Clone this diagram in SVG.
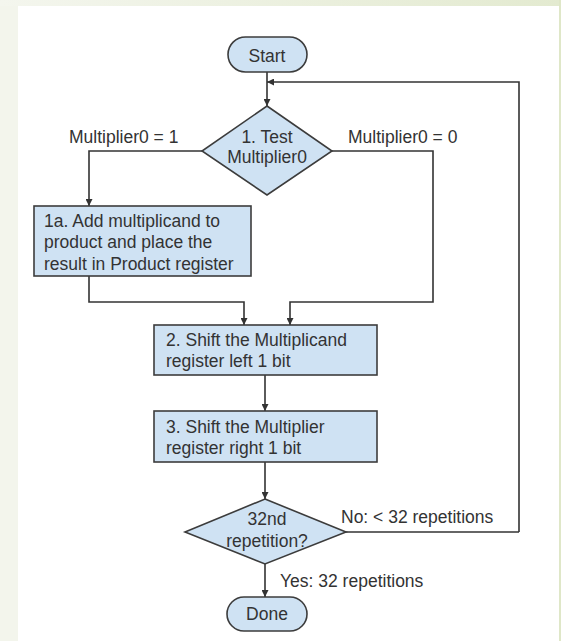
<svg xmlns="http://www.w3.org/2000/svg" width="561" height="641" viewBox="0 0 561 641">
  <defs>
    <linearGradient id="topband" x1="0" y1="0" x2="1" y2="0">
      <stop offset="0" stop-color="#f4f6ee"/>
      <stop offset="1" stop-color="#e3ead0"/>
    </linearGradient>
    <marker id="arrow" markerUnits="userSpaceOnUse" markerWidth="8" markerHeight="7" refX="7" refY="3.5" orient="auto">
      <path d="M0,0 L7,3.5 L0,7 z" fill="#333"/>
    </marker>
    <style>
      .shape { fill: #cfe2f3; stroke: #3c3c3c; stroke-width: 1.6; }
      .label { font-family: "Liberation Sans", Arial, sans-serif; font-size: 17.5px; fill: #333; }
      .mid { text-anchor: middle; }
      .wire { fill: none; stroke: #333; stroke-width: 1.6; }
    </style>
  </defs>

  <!-- page backdrop -->
  <rect x="0" y="0" width="561" height="641" fill="#f3f5ec"/>
  <rect x="0" y="0" width="561" height="6" fill="url(#topband)"/>
  <rect x="559" y="0" width="2" height="641" fill="#dfe7c8"/>
  <rect x="18" y="6" width="541" height="635" fill="#ffffff"/>

  <!-- connectors -->
  <g id="connectors">
    <path class="wire" d="M267,72 V106" marker-end="url(#arrow)"/>
    <path class="wire" d="M519,532 V82 H267" marker-end="url(#arrow)"/>
    <path class="wire" d="M202,151 H89 V206" marker-end="url(#arrow)"/>
    <path class="wire" d="M332,151 H433 V302 H290 V325" marker-end="url(#arrow)"/>
    <path class="wire" d="M89,276 V302 H244 V325" marker-end="url(#arrow)"/>
    <path class="wire" d="M265,375 V411" marker-end="url(#arrow)"/>
    <path class="wire" d="M265,462 V499" marker-end="url(#arrow)"/>
    <path class="wire" d="M346,532 H519"/>
    <path class="wire" d="M265,564 V597" marker-end="url(#arrow)"/>
  </g>

  <!-- edge labels -->
  <g id="edge-labels">
    <text class="label" x="69" y="143">Multiplier0 = 1</text>
    <text class="label" x="348" y="143">Multiplier0 = 0</text>
    <text class="label" x="341" y="523">No: &lt; 32 repetitions</text>
    <text class="label" x="280" y="587">Yes: 32 repetitions</text>
  </g>

  <g id="start">
    <rect class="shape" x="228" y="37" width="79" height="35" rx="17.5"/>
    <text class="label mid" x="267" y="62">Start</text>
  </g>

  <g id="test-multiplier">
    <polygon class="shape" points="267,106 332,151 267,195 202,151"/>
    <text class="label mid" x="267" y="143">1. Test</text>
    <text class="label mid" x="267" y="163">Multiplier0</text>
  </g>

  <g id="add-multiplicand">
    <rect class="shape" x="34" y="206" width="217" height="70"/>
    <text class="label" x="44" y="227">1a. Add multiplicand to</text>
    <text class="label" x="44" y="248">product and place the</text>
    <text class="label" x="44" y="269.5">result in Product register</text>
  </g>

  <g id="shift-multiplicand">
    <rect class="shape" x="154" y="325" width="223" height="50"/>
    <text class="label" x="166" y="346">2. Shift the Multiplicand</text>
    <text class="label" x="166" y="367">register left 1 bit</text>
  </g>

  <g id="shift-multiplier">
    <rect class="shape" x="154" y="411" width="223" height="51"/>
    <text class="label" x="166" y="433">3. Shift the Multiplier</text>
    <text class="label" x="166" y="454">register right 1 bit</text>
  </g>

  <g id="repetition-check">
    <polygon class="shape" points="265,499 346,532 265,564 185,532"/>
    <text class="label mid" x="267" y="525">32nd</text>
    <text class="label mid" x="267" y="547">repetition?</text>
  </g>

  <g id="done">
    <rect class="shape" x="227" y="597" width="80" height="34" rx="17"/>
    <text class="label mid" x="267" y="620">Done</text>
  </g>
</svg>
